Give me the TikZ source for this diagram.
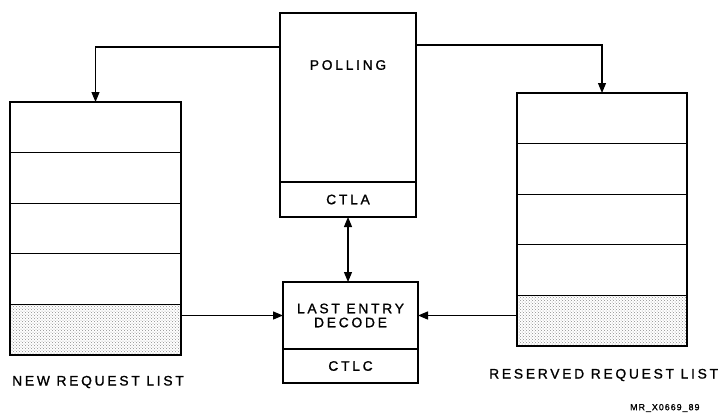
\documentclass[tikz,border=0pt]{standalone}
\usepackage{fontspec}
\newfontfamily\diagfont[LetterSpace=20,FakeBold=1.2]{Liberation Sans}
\newfontfamily\tagfont[LetterSpace=12,FakeBold=1.5]{Liberation Sans}
\usetikzlibrary{arrows.meta,patterns}

\tikzset{
    row/.style={draw, line width=1.1pt, rectangle, inner sep=0pt, outer sep=0pt},
    frame/.style={draw, line width=2.2pt},
    shaded/.style={row, pattern=crosshatch dots, pattern color=black!45},
    lbl/.style={font=\diagfont\fontsize{13.8}{15}\selectfont, inner sep=0pt},
    arr/.style={draw, line width=1.1pt, -{Triangle[length=10pt,width=8pt]}},
}

\begin{document}
\begin{tikzpicture}[x=1pt,y=-1pt]
        \useasboundingbox (0,0) rectangle (722,413);

        % new request list
        \node[row, minimum width=171, minimum height=50.6] (n1) at (95.5,127.3) {};
        \node[row, minimum width=171, minimum height=50.6] (n2) at (95.5,177.9) {};
        \node[row, minimum width=171, minimum height=50.6] (n3) at (95.5,228.5) {};
        \node[row, minimum width=171, minimum height=50.6] (n4) at (95.5,279.1) {};
        \node[shaded, minimum width=171, minimum height=50.6] (n5) at (95.5,329.7) {};
        \path[frame] (n1.north west) rectangle (n5.south east);
        \node[lbl, anchor=west] (newlbl) at (12,382) {NEW REQUEST LIST};

        % reserved request list
        \node[row, minimum width=170, minimum height=50.6] (r1) at (602,118.3) {};
        \node[row, minimum width=170, minimum height=50.6] (r2) at (602,168.9) {};
        \node[row, minimum width=170, minimum height=50.6] (r3) at (602,219.5) {};
        \node[row, minimum width=170, minimum height=50.6] (r4) at (602,270.1) {};
        \node[shaded, minimum width=170, minimum height=50.6] (r5) at (602,320.7) {};
        \path[frame] (r1.north west) rectangle (r5.south east);
        \node[lbl, anchor=west] (reslbl) at (489,375) {RESERVED REQUEST LIST};

        % polling
        \node[row, minimum width=136, minimum height=169] (poll) at (348,97.5) {};
        \node[row, minimum width=136, minimum height=35] (ctla) at (348,199.5) {};
        \path[frame] (poll.north west) rectangle (ctla.south east);
        \node[lbl] (polltxt) at (348,65) {POLLING};
        \node[lbl] at (ctla) {CTLA};

        % last entry decode
        \node[row, minimum width=135, minimum height=67] (decode) at (350.5,315.5) {};
        \node[row, minimum width=135, minimum height=34] (ctlc) at (350.5,366) {};
        \path[frame] (decode.north west) rectangle (ctlc.south east);
        \node[lbl, align=center] at (decode) {LAST ENTRY\\[-1pt]DECODE};
        \node[lbl] at (ctlc) {CTLC};

        \path[arr] ([yshift=-34]poll.north west) -| (n1.north);
        \path[arr] ([yshift=-32]poll.north east) -| (r1.north);
        \path[arr, {Triangle[length=10pt,width=8pt]}-{Triangle[length=10pt,width=8pt]}] (ctla.south) -- (ctla.south |- decode.north);
        \path[arr, line width=1.4pt] (n5.east |- decode.west) -- (decode.west);
        \path[arr, line width=1.4pt] (r5.west |- decode.east) -- (decode.east);

        \node[font=\tagfont\fontsize{8.8}{10}\selectfont, inner sep=0pt, anchor=west] (tag) at (630,408) {MR\_X0669\_89};
    \end{tikzpicture}
\end{document}
